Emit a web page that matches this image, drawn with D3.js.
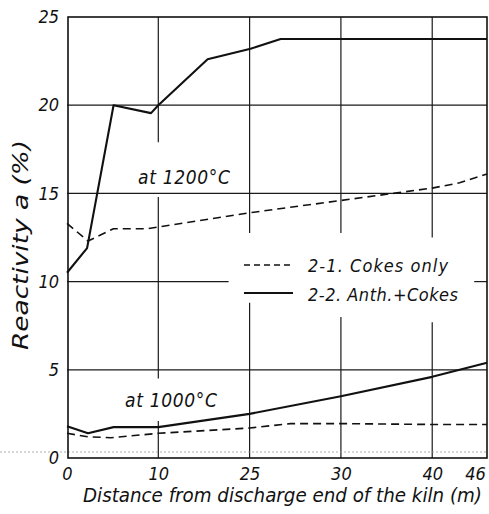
<!DOCTYPE html>
<html>
<head>
<meta charset="utf-8">
<script src="https://cdn.jsdelivr.net/npm/d3@7"></script>
<style>
  body{margin:0;background:#fff;}
  svg{display:block;}
  text{font-family:"DejaVu Sans Condensed","Liberation Sans Narrow","DejaVu Sans",sans-serif;font-style:italic;fill:#111;}
</style>
</head>
<body>
<svg id="chart" width="489" height="514"></svg>
<script>
// distance from discharge end (m)
const xHot=[0,2.2,5.1,9.2,10,15.4,20.1,23.4,30,40,46];
const hotAnth=[10.5,11.9,20.0,19.55,20.0,22.6,23.2,23.75,23.75,23.75,23.75];
const xHotCoke=[0,2.3,5.1,8.8,20,30,40,43,46];
const hotCoke=[13.3,12.3,13.0,13.0,13.9,14.6,15.3,15.6,16.1];
const xWarm=[0,2.3,5.1,10,20,30,40,46];
const warmAnth=[1.8,1.4,1.75,1.75,2.5,3.5,4.6,5.4];
const xWarmCoke=[0,2.3,4.8,10,20,24.5,30,40,46];
const warmCoke=[1.4,1.2,1.15,1.4,1.7,1.95,1.95,1.9,1.9];

const xTicks=[0,10,20,30,40,46];
const xTickLabels=["0","10","25","30","40","46"];
const yTicks=[0,5,10,15,20,25];
const legendLabels=["2-1. Cokes only","2-2. Anth.+Cokes"];

const svg=d3.select("#chart");
const m={top:17,right:2,bottom:56,left:67};
const w=489,h=514;
const x=d3.scaleLinear().domain([0,46]).range([m.left,w-m.right]);
const y=d3.scaleLinear().domain([0,25]).range([h-m.bottom,m.top]);

// grid, broken around the labels like the printed figure
const hGrid=[[5,0,46],[10,0,17.7],[10,44.6,46],[15,0,46],[20,0,46]];
const vGrid=[[10,0,2.1],[10,4.5,14.8],[10,17.9,25],[20,0,8.8],[20,12.75,25],[30,0,8.0],[30,12.75,25],[40,0,7.7],[40,12.5,25]];
const g=svg.append("g").attr("stroke","#1a1a1a").attr("stroke-width",1.2);
g.selectAll(".hg").data(hGrid).join("line")
  .attr("x1",d=>x(d[1])).attr("x2",d=>x(d[2]))
  .attr("y1",d=>y(d[0])).attr("y2",d=>y(d[0]));
g.selectAll(".vg").data(vGrid).join("line")
  .attr("x1",d=>x(d[0])).attr("x2",d=>x(d[0]))
  .attr("y1",d=>y(d[1])).attr("y2",d=>y(d[2]));

// scan streak just above the baseline
svg.append("line").attr("x1",0).attr("x2",w-m.right)
  .attr("y1",y(0)-6).attr("y2",y(0)-6)
  .attr("stroke","#999").attr("stroke-width",0.8).attr("stroke-dasharray","2,2");

// frame
svg.append("rect").attr("x",x(0)+1).attr("y",y(25))
  .attr("width",x(46)-x(0)-1).attr("height",y(0)-y(25))
  .attr("fill","none").attr("stroke","#111").attr("stroke-width",1.6);

const line=d3.line().x(d=>x(d[0])).y(d=>y(d[1]));
const curves=[
  {xs:xHot,ys:hotAnth,dash:null},
  {xs:xHotCoke,ys:hotCoke,dash:"8,5"},
  {xs:xWarm,ys:warmAnth,dash:null},
  {xs:xWarmCoke,ys:warmCoke,dash:"8,5"}
];
svg.selectAll(".curve").data(curves).join("path")
  .attr("fill","none").attr("stroke","#111")
  .attr("stroke-width",d=>d.dash?1.6:2.1)
  .attr("stroke-dasharray",d=>d.dash)
  .attr("stroke-linejoin","round")
  .attr("d",d=>line(d.xs.map((v,i)=>[v,d.ys[i]])));

// axes labels (no tick marks)
const xAxis=svg.append("g").attr("transform",`translate(0,${y(0)})`)
  .call(d3.axisBottom(x).tickValues(xTicks).tickSize(0).tickPadding(9)
    .tickFormat((d,i)=>xTickLabels[i]));
const yAxis=svg.append("g").attr("transform",`translate(${x(0)},0)`)
  .call(d3.axisLeft(y).tickValues(yTicks).tickSize(0).tickPadding(8));
[xAxis,yAxis].forEach(a=>{
  a.select(".domain").remove();
  a.selectAll("text").attr("font-size","18px").attr("font-family",null);
});
xAxis.selectAll("text").attr("dx",(d,i)=>i===xTicks.length-1?"-12":"0");

svg.append("text").attr("x",83).attr("y",502)
  .attr("font-size","19px")
  .attr("textLength",399).attr("lengthAdjust","spacingAndGlyphs")
  .text("Distance from discharge end of the kiln (m)");
svg.append("text").attr("transform","translate(28,245) rotate(-90)")
  .attr("text-anchor","middle").attr("font-size","21px")
  .attr("textLength",210).attr("lengthAdjust","spacingAndGlyphs")
  .text("Reactivity  a  (%)");

svg.append("text").attr("x",138).attr("y",y(15.55))
  .attr("font-size","19px").attr("textLength",92).attr("lengthAdjust","spacing")
  .text("at 1200°C");
svg.append("text").attr("x",125).attr("y",y(2.9))
  .attr("font-size","19px").attr("textLength",92).attr("lengthAdjust","spacing")
  .text("at 1000°C");

// legend
const legendWidths=[140,150];
const leg=svg.append("g");
leg.selectAll("line").data(legendLabels).join("line")
  .attr("x1",244).attr("x2",293)
  .attr("y1",(d,i)=>265+i*28).attr("y2",(d,i)=>265+i*28)
  .attr("stroke","#111").attr("stroke-width",(d,i)=>i?2:1.4)
  .attr("stroke-dasharray",(d,i)=>i?null:"6,4");
leg.selectAll("text").data(legendLabels).join("text")
  .attr("x",308).attr("y",(d,i)=>272+i*29)
  .attr("font-size","18px")
  .attr("textLength",(d,i)=>legendWidths[i]).attr("lengthAdjust","spacing")
  .text(d=>d);
</script>
</body>
</html>
